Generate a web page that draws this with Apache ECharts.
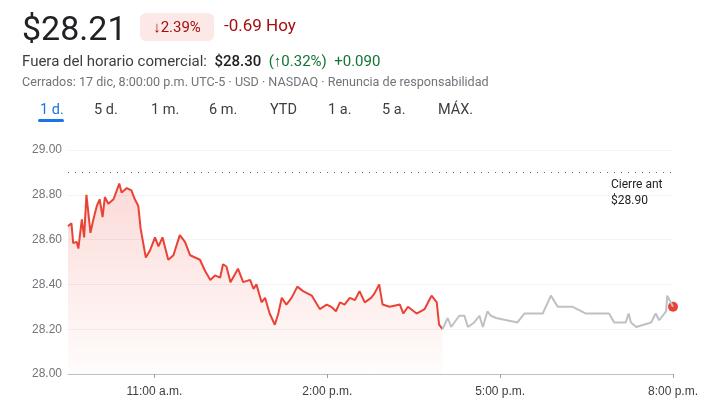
<!DOCTYPE html>
<html><head><meta charset="utf-8">
<script src="https://cdn.jsdelivr.net/npm/echarts@6/dist/echarts.min.js"></script>
<style>
body{margin:0;background:#fff;font-family:Roboto,Arial,sans-serif;}
#c{position:absolute;left:0;top:0;width:709px;height:414px;}
.t{position:absolute;white-space:nowrap;}
</style></head><body>
<div id="c"></div>
<div class="t" style="left:22px;top:8px;font-size:34px;color:#202124;">$28.21</div>
<div class="t" style="left:140px;top:13px;width:74px;height:28px;background:#fce8e6;border-radius:6px;color:#a50e0e;font-size:15px;line-height:28px;text-align:center;"><b>↓</b>2.39%</div>
<div class="t" style="left:224px;top:15px;font-size:17px;color:#a50e0e;">-0.69 Hoy</div>
<div class="t" style="left:22px;top:52px;font-size:15px;color:#3c4043;">Fuera del horario comercial:&nbsp; <span style="color:#202124;font-weight:500">$28.30</span> &nbsp;<span style="color:#137333">(<b>↑</b>0.32%)&nbsp; +0.090</span></div>
<div class="t" style="left:22px;top:74px;font-size:12.6px;color:#70757a;">Cerrados: 17 dic, 8:00:00 p.m. UTC-5 · USD · NASDAQ · Renuncia de responsabilidad</div>
<div class="t" style="left:40px;top:101px;font-size:14.5px;color:#1a73e8;">1 d.</div>
<div class="t" style="left:38px;top:119px;width:26px;height:3px;background:#1a73e8;border-radius:2px;"></div>
<div class="t" style="left:94px;top:101px;font-size:14.5px;color:#3c4043;">5 d.</div>
<div class="t" style="left:151px;top:101px;font-size:14.5px;color:#3c4043;">1 m.</div>
<div class="t" style="left:209px;top:101px;font-size:14.5px;color:#3c4043;">6 m.</div>
<div class="t" style="left:270px;top:101px;font-size:14.5px;color:#3c4043;">YTD</div>
<div class="t" style="left:328px;top:101px;font-size:14.5px;color:#3c4043;">1 a.</div>
<div class="t" style="left:382px;top:101px;font-size:14.5px;color:#3c4043;">5 a.</div>
<div class="t" style="left:438px;top:101px;font-size:14.5px;color:#3c4043;">MÁX.</div>
<div class="t" style="left:611px;top:176px;font-size:12px;color:#202124;line-height:16px;">Cierre ant<br>$28.90</div>
<script>
const regHours=[9.5,9.56,9.59,9.65,9.68,9.74,9.78,9.82,9.89,9.94,10.0,10.05,10.1,10.14,10.2,10.29,10.39,10.43,10.52,10.6,10.66,10.72,10.76,10.85,10.92,11.01,11.07,11.14,11.24,11.33,11.44,11.53,11.62,11.79,11.88,11.97,12.05,12.14,12.19,12.25,12.32,12.45,12.54,12.66,12.72,12.77,12.86,12.92,13.0,13.09,13.15,13.21,13.29,13.38,13.48,13.58,13.73,13.87,13.99,14.07,14.15,14.22,14.3,14.39,14.48,14.56,14.65,14.76,14.82,14.9,14.96,15.08,15.26,15.32,15.4,15.55,15.69,15.77,15.81,15.9,15.94,16.0];
const regPrices=[28.66,28.673,28.584,28.59,28.56,28.69,28.61,28.80,28.63,28.69,28.75,28.78,28.70,28.79,28.76,28.78,28.85,28.81,28.83,28.82,28.78,28.75,28.65,28.52,28.55,28.61,28.57,28.61,28.51,28.53,28.62,28.59,28.53,28.51,28.46,28.42,28.44,28.43,28.49,28.48,28.41,28.47,28.41,28.42,28.38,28.40,28.32,28.34,28.27,28.22,28.27,28.34,28.31,28.34,28.39,28.37,28.35,28.29,28.31,28.30,28.28,28.32,28.31,28.34,28.33,28.37,28.32,28.34,28.36,28.40,28.31,28.30,28.31,28.27,28.30,28.27,28.29,28.33,28.35,28.32,28.22,28.20];
const extHours=[16.0,16.09,16.15,16.29,16.38,16.44,16.55,16.64,16.7,16.78,16.84,16.93,17.3,17.42,17.74,17.88,18.0,18.26,18.49,18.89,18.98,19.18,19.23,19.27,19.36,19.62,19.7,19.76,19.88,19.9,20.0];
const extPrices=[28.20,28.25,28.21,28.26,28.26,28.21,28.23,28.26,28.21,28.28,28.26,28.25,28.23,28.27,28.27,28.35,28.30,28.30,28.27,28.27,28.23,28.23,28.27,28.23,28.21,28.23,28.27,28.24,28.28,28.35,28.30];
const prevClose=28.90;
const xTicks=[11,14,17,20];
const xTickLabels=["11:00 a.m.","2:00 p.m.","5:00 p.m.","8:00 p.m."];
const z=(a,b)=>a.map((v,i)=>[v,b[i]]);
const ch=echarts.init(document.getElementById('c'));
ch.setOption({
 animation:false,
 grid:{left:68,right:36,top:150,bottom:40},
 xAxis:{type:'value',min:9.5,max:20,
  axisLine:{show:true,lineStyle:{color:'#bdc1c6'}},
  axisTick:{show:true,customValues:xTicks,length:4,lineStyle:{color:'#9aa0a6'}},
  splitLine:{show:false},
  axisLabel:{customValues:xTicks,color:'#3c4043',fontSize:12,margin:12,formatter:v=>xTickLabels[xTicks.indexOf(v)]}},
 yAxis:{type:'value',min:28,max:29,interval:0.2,
  axisLabel:{color:'#70757a',fontSize:12,margin:36,align:'left',formatter:v=>v.toFixed(2)},
  splitLine:{lineStyle:{color:'#f1f3f4'}},axisLine:{show:false},axisTick:{show:false}},
 series:[
  {type:'line',data:z(regHours,regPrices),showSymbol:false,lineStyle:{color:'#ea4335',width:2},
   areaStyle:{origin:'start',color:new echarts.graphic.LinearGradient(0,0,0,1,[{offset:0,color:'rgba(234,67,53,0.28)'},{offset:1,color:'rgba(234,67,53,0.02)'}])},
   markLine:{silent:true,symbol:'none',label:{show:false},lineStyle:{color:'#5f6368',type:[1,6],width:1},data:[{yAxis:prevClose}]}},
  {type:'line',data:z(extHours,extPrices),showSymbol:false,lineStyle:{color:'#bdc1c6',width:2}},
  {type:'scatter',data:[[extHours[extHours.length-1],extPrices[extPrices.length-1]]],symbolSize:10,itemStyle:{color:'#ea4335',opacity:1}}
 ]
});
</script></body></html>
